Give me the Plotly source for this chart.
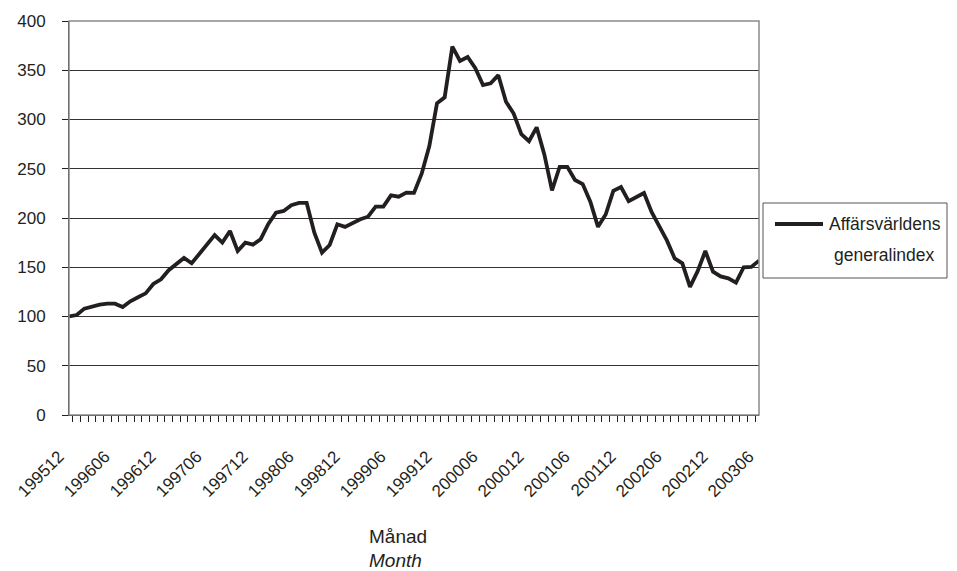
import plotly.graph_objects as go

months = [
    "199512", "199601", "199602", "199603", "199604", "199605", "199606", "199607", "199608", "199609", "199610", "199611",
    "199612", "199701", "199702", "199703", "199704", "199705", "199706", "199707", "199708", "199709", "199710", "199711",
    "199712", "199801", "199802", "199803", "199804", "199805", "199806", "199807", "199808", "199809", "199810", "199811",
    "199812", "199901", "199902", "199903", "199904", "199905", "199906", "199907", "199908", "199909", "199910", "199911",
    "199912", "200001", "200002", "200003", "200004", "200005", "200006", "200007", "200008", "200009", "200010", "200011",
    "200012", "200101", "200102", "200103", "200104", "200105", "200106", "200107", "200108", "200109", "200110", "200111",
    "200112", "200201", "200202", "200203", "200204", "200205", "200206", "200207", "200208", "200209", "200210", "200211",
    "200212", "200301", "200302", "200303", "200304", "200305", "200306",
]

index_values = [
    100.0, 101.5, 108.0, 110.0, 112.0, 113.0, 113.0, 109.6, 115.4, 119.5, 123.5, 133.0,
    137.8, 147.0, 153.0, 159.4, 154.0, 164.0, 173.6, 182.7, 175.0, 186.8, 166.5, 175.0,
    173.0, 178.5, 194.0, 205.4, 207.2, 213.0, 215.3, 215.3, 185.0, 164.8, 172.6, 193.6,
    191.0, 195.0, 198.7, 201.3, 211.5, 211.5, 223.0, 221.6, 225.7, 225.5, 245.0, 273.0,
    316.5, 322.5, 374.0, 359.4, 363.5, 352.0, 335.0, 336.8, 345.0, 318.0, 306.0, 285.0,
    278.0, 292.0, 264.5, 228.0, 252.0, 252.0, 238.6, 234.5, 216.6, 191.0, 203.5, 227.5,
    231.4, 217.0, 221.0, 225.4, 206.0, 191.5, 177.0, 159.0, 154.0, 130.0, 146.0, 166.5,
    145.5, 140.7, 138.8, 134.3, 150.0, 150.3, 156.7,
]

NBSP = "\u00a0"
tick_labels = [(m + NBSP * 3) if i % 6 == 0 else "" for i, m in enumerate(months)]
y_ticks = [0, 50, 100, 150, 200, 250, 300, 350, 400]

legend_line1 = "Affärsvärldens"
legend_line2 = "generalindex"
axis_title_sv = "Månad"
axis_title_en = "<i>Month</i>"

FONT = "Liberation Sans, Arial, sans-serif"
INK = "#231f20"

# the page draws the figure with an 8px body margin; values below are figure pixels
W, H = 941, 563
L, R, T, B = 61, 190, 13, 156
PW, PH = W - L - R, H - T - B


def px_x(px):
    return (px - L) / PW


def px_y(py):
    return (H - B - py) / PH


fig = go.Figure()
fig.add_trace(go.Scatter(
    x=months, y=index_values, mode="lines", name=legend_line1 + " " + legend_line2,
    line=dict(color=INK, width=3.8), showlegend=False,
))

fig.update_layout(
    width=W, height=H,
    margin=dict(l=L, r=R, t=T, b=B, autoexpand=False),
    paper_bgcolor="white", plot_bgcolor="white",
    font=dict(family=FONT, color=INK, size=17),
    showlegend=False,
    xaxis=dict(
        type="category", automargin=False,
        tickmode="array", tickvals=months, ticktext=tick_labels,
        tickson="boundaries", ticks="outside", ticklen=6, tickwidth=1, tickcolor=INK,
        tickangle=-45, tickfont=dict(size=17, family=FONT, color=INK),
        showline=True, linecolor=INK, linewidth=1,
        showgrid=False, zeroline=False,
        ticklabelstandoff=14,
    ),
    yaxis=dict(
        range=[0, 400], tickvals=y_ticks, automargin=False,
        ticks="outside", ticklen=6, tickwidth=1, tickcolor=INK,
        tickfont=dict(size=17, family=FONT, color=INK),
        showline=True, linecolor=INK, linewidth=1,
        showgrid=True, gridcolor="#333333", gridwidth=1,
        zeroline=False,
        ticklabelstandoff=13,
    ),
)

# gray plot-area frame
fig.add_shape(type="rect", xref="paper", yref="paper", x0=0, y0=0, x1=1, y1=1,
              line=dict(color="#8a8a8a", width=1.5), layer="above")

# legend box drawn by hand (Excel-style two-line entry)
fig.add_shape(type="rect", xref="paper", yref="paper",
              x0=px_x(755), x1=px_x(939), y0=px_y(270), y1=px_y(195),
              line=dict(color="#555555", width=1), fillcolor="white")
fig.add_shape(type="line", xref="paper", yref="paper",
              x0=px_x(767), x1=px_x(815), y0=px_y(216), y1=px_y(216),
              line=dict(color=INK, width=3.8))
fig.add_annotation(xref="paper", yref="paper", x=px_x(819), y=px_y(216),
                   xanchor="left", yanchor="middle", showarrow=False,
                   text=legend_line1, font=dict(size=17.5, family=FONT, color=INK))
fig.add_annotation(xref="paper", yref="paper", x=px_x(824), y=px_y(247),
                   xanchor="left", yanchor="middle", showarrow=False,
                   text=legend_line2, font=dict(size=17.5, family=FONT, color=INK))

# axis title (Swedish / English)
fig.add_annotation(xref="paper", yref="paper", x=px_x(359), y=px_y(528),
                   xanchor="left", yanchor="middle", showarrow=False,
                   text=axis_title_sv, font=dict(size=19, family=FONT, color=INK))
fig.add_annotation(xref="paper", yref="paper", x=px_x(359), y=px_y(552),
                   xanchor="left", yanchor="middle", showarrow=False,
                   text=axis_title_en, font=dict(size=19, family=FONT, color=INK))

fig.write_html("out.html")
